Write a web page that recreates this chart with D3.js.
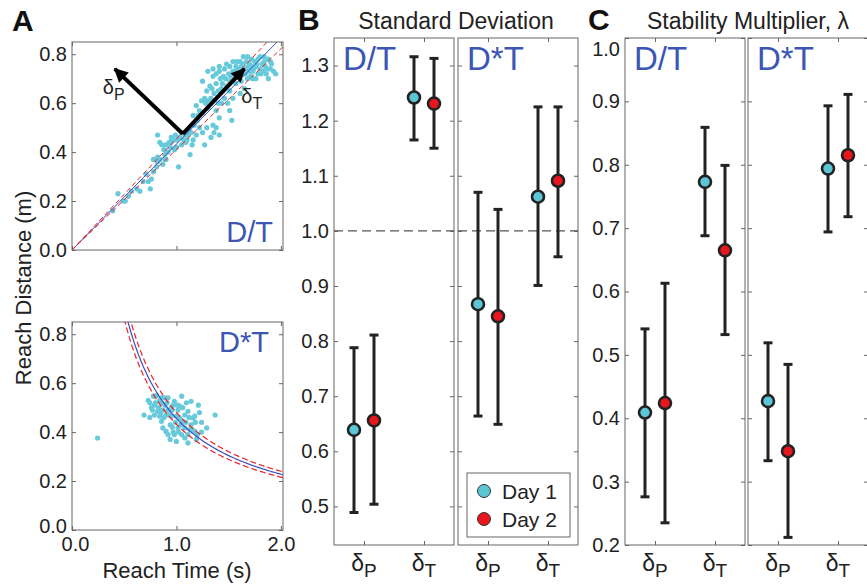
<!DOCTYPE html>
<html>
<head>
<meta charset="utf-8">
<script src="https://cdn.jsdelivr.net/npm/d3@7"></script>
<style>
  body { margin: 0; background: #fff; }
  svg { font-family: "Liberation Sans", Arial, Helvetica, sans-serif; }
</style>
</head>
<body>
<svg id="chart" width="867" height="587"></svg>
<script>
// ---- data ----
const days = ["Day 1", "Day 2"];
const dayColors = ["#5cc6d6", "#e8161d"];
const directions = ["P", "T"];

const reachTicksX = [0, 1, 2];
const reachTicksY = [0, 0.2, 0.4, 0.6, 0.8];
const sdTicks = [0.5, 0.6, 0.7, 0.8, 0.9, 1.0, 1.1, 1.2, 1.3];
const lamTicks = [0.2, 0.3, 0.4, 0.5, 0.6, 0.7, 0.8, 0.9, 1.0];

// rows: dP day1, dP day2, dT day1, dT day2 -> [mean, low, high]
const sdDT = [[0.639, 0.489, 0.788], [0.656, 0.504, 0.811], [1.242, 1.165, 1.316], [1.231, 1.150, 1.313]];
const sdDxT = [[0.867, 0.664, 1.070], [0.845, 0.649, 1.039], [1.062, 0.901, 1.225], [1.091, 0.953, 1.225]];
const lamDT = [[0.409, 0.276, 0.541], [0.424, 0.235, 0.613], [0.773, 0.688, 0.859], [0.665, 0.532, 0.799]];
const lamDxT = [[0.427, 0.333, 0.519], [0.348, 0.212, 0.485], [0.794, 0.694, 0.893], [0.815, 0.718, 0.911]];

// model lines: D = k*T and D*T = c  (centre, lower, upper)
const dtSlopes = [0.433, 0.411, 0.455];
const dxtProducts = [0.456, 0.432, 0.48];

// reach samples [time (s), distance (m)]
const dtPoints = [
  [0.39,0.16],[0.44,0.23],[0.49,0.20],[0.54,0.22],[0.51,0.20],[0.57,0.24],[0.62,0.25],[0.65,0.24],
  [0.68,0.28],[0.71,0.31],[0.73,0.28],[0.75,0.25],[0.76,0.29],[0.78,0.32],[0.81,0.34],[0.82,0.36],
  [0.84,0.37],[0.78,0.37],[0.82,0.38],[0.87,0.35],[0.89,0.39],[0.90,0.37],[0.86,0.43],[0.90,0.43],
  [0.94,0.42],[0.95,0.44],[0.97,0.45],[1.00,0.45],[1.02,0.34],[1.05,0.43],[1.10,0.45],[1.13,0.39],
  [1.16,0.45],[1.14,0.48],[1.19,0.47],[1.22,0.50],[1.25,0.48],[1.29,0.50],[1.35,0.51],[1.38,0.50],
  [1.41,0.47],[1.27,0.43],[1.33,0.46],[1.16,0.55],[1.22,0.57],[1.19,0.59],[1.24,0.61],[1.27,0.62],
  [1.29,0.65],[1.30,0.73],[1.25,0.69],[1.32,0.67],[1.35,0.71],[1.38,0.68],[1.40,0.65],[1.41,0.73],
  [1.45,0.71],[1.48,0.67],[1.51,0.69],[1.51,0.75],[1.54,0.73],[1.57,0.75],[1.61,0.73],[1.64,0.76],
  [1.67,0.74],[1.70,0.76],[1.73,0.73],[1.76,0.75],[1.80,0.74],[1.83,0.73],[1.86,0.72],[1.88,0.78],
  [1.78,0.78],[1.68,0.79],[1.61,0.77],[1.54,0.77],[1.48,0.76],[1.41,0.75],[1.35,0.74],[1.51,0.65],
  [1.54,0.62],[1.57,0.68],[1.61,0.64],[1.65,0.66],[1.73,0.70],[1.51,0.57],[1.53,0.53],[1.41,0.54],
  [1.38,0.57],[1.43,0.60],[1.30,0.58],[1.55,0.70],[1.60,0.71],[1.62,0.69],[1.66,0.72],[1.70,0.73],
  [1.72,0.75],[1.75,0.77],[1.78,0.72],[1.82,0.76],[1.85,0.75],[1.90,0.74],[1.93,0.73],[1.84,0.79],
  [1.64,0.79],[1.58,0.77],[1.46,0.74],[1.44,0.68],[1.36,0.64],[1.33,0.62],[1.30,0.61],[1.46,0.62],
  [1.49,0.60],[1.40,0.60],[1.25,0.56],[1.20,0.53],[1.17,0.51],[1.12,0.49],[1.08,0.47],[1.05,0.48],
  [1.03,0.46],[1.00,0.42],[0.98,0.41],[0.92,0.40],[0.88,0.41],[0.95,0.46],[1.09,0.44],[1.15,0.43],
  [1.36,0.48],[1.90,0.77],[1.95,0.72],[1.88,0.70],[1.76,0.70],[1.68,0.70],[1.57,0.71],[1.52,0.71],
  [1.42,0.70],[1.38,0.72],[1.62,0.75],[1.72,0.78],[1.80,0.79],[0.82,0.47],[0.84,0.44],[0.89,0.37],
  [1.59,0.74],[1.63,0.72],[1.67,0.77],[1.71,0.71],[1.74,0.74],[1.77,0.76],[1.81,0.72],[1.84,0.77],
  [1.87,0.74],[1.91,0.76],[1.69,0.75],[1.56,0.73],[1.50,0.72],[1.47,0.70],[1.43,0.66],[1.34,0.66],
  [1.28,0.60],[1.21,0.55],[1.11,0.47],[1.07,0.45],[0.93,0.44],[0.99,0.47]
];
const dxtPoints = [
  [0.69,0.47],[0.73,0.53],[0.745,0.46],[0.78,0.547],[0.79,0.51],[0.82,0.485],[0.84,0.53],[0.857,0.444],
  [0.87,0.417],[0.89,0.51],[0.90,0.47],[0.92,0.54],[0.94,0.43],[0.94,0.37],[0.95,0.50],[0.97,0.40],
  [0.98,0.526],[1.00,0.465],[1.015,0.417],[1.03,0.506],[1.05,0.547],[1.06,0.444],[1.08,0.376],[1.095,0.52],
  [1.11,0.485],[1.11,0.356],[1.13,0.41],[1.14,0.526],[1.16,0.458],[1.175,0.403],[1.21,0.51],[1.22,0.48],
  [1.24,0.44],[1.29,0.417],[1.37,0.47],[0.90,0.403],[0.98,0.39],[0.81,0.55],[0.87,0.49],[0.95,0.465],
  [1.015,0.49],[1.05,0.39],[0.79,0.47],[0.76,0.50],[0.89,0.54],[1.08,0.47],[1.14,0.43],[0.92,0.49],
  [0.97,0.51],[0.84,0.465],[1.03,0.458],[1.08,0.417],[1.175,0.465],[1.24,0.40],[1.00,0.362],[0.92,0.39],
  [1.11,0.39],[1.19,0.37],[0.745,0.52],[0.857,0.52],[0.245,0.376],
  [0.80,0.52],[0.83,0.50],[0.86,0.54],[0.88,0.46],[0.91,0.52],[0.93,0.47],[0.96,0.49],[0.99,0.44],
  [1.01,0.51],[1.04,0.43],[1.06,0.50],[1.09,0.44],[1.12,0.46],[1.15,0.41],[1.18,0.44],[1.20,0.39],
  [0.96,0.42],[1.02,0.40],[0.77,0.49],[0.85,0.48]
];

// arrows in panel A (data units)
const arrowStart = [1.06, 0.475];
const arrowEnds = [[0.41, 0.74], [1.65, 0.74]];

// ---- drawing ----
const svg = d3.select("#chart");
const blue = "#3b56b4";
const ink = "#222";
const boxColor = "#666";

const defs = svg.append("defs");
defs.append("marker")
  .attr("id", "head")
  .attr("viewBox", "0 0 10 10")
  .attr("refX", 9).attr("refY", 5)
  .attr("markerWidth", 17).attr("markerHeight", 14)
  .attr("markerUnits", "userSpaceOnUse")
  .attr("orient", "auto")
  .append("path").attr("d", "M0,0 L10,5 L0,10 z").attr("fill", "#000");

function styleAxis(sel) {
  sel.select(".domain").remove();
  sel.selectAll("line").attr("stroke", boxColor);
  sel.selectAll("text").attr("font-size", 20).attr("fill", ink)
    .attr("font-family", "'Liberation Sans', Arial, sans-serif");
}

// box with inward ticks on all four sides
function frame(x, y, xTicks, yTicks, showY, showX) {
  const g = svg.append("g");
  const [x0, x1] = x.range();
  const [yb, yt] = y.range();
  const left = g.append("g").attr("transform", `translate(${x0},0)`)
    .call(d3.axisLeft(y).tickValues(yTicks).tickSize(-4).tickSizeOuter(0).tickPadding(5)
      .tickFormat(showY ? d3.format(".1f") : ""))
    .call(styleAxis);
  g.append("g").attr("transform", `translate(${x1},0)`)
    .call(d3.axisRight(y).tickValues(yTicks).tickSize(-4).tickSizeOuter(0).tickFormat(""))
    .call(styleAxis);
  const bottom = g.append("g").attr("transform", `translate(0,${yb})`)
    .call(d3.axisBottom(x).tickValues(xTicks).tickSize(-4).tickSizeOuter(0).tickPadding(7)
      .tickFormat(showX ? d3.format(".1f") : ""))
    .call(styleAxis);
  g.append("g").attr("transform", `translate(0,${yt})`)
    .call(d3.axisTop(x).tickValues(xTicks).tickSize(-4).tickSizeOuter(0).tickFormat(""))
    .call(styleAxis);
  g.append("rect")
    .attr("x", x0).attr("y", yt).attr("width", x1 - x0).attr("height", yb - yt)
    .attr("fill", "none").attr("stroke", boxColor).attr("stroke-width", 1);
  return { left, bottom };
}

function clipFor(id, x, y) {
  const [x0, x1] = x.range();
  const [yb, yt] = y.range();
  defs.append("clipPath").attr("id", id)
    .append("rect").attr("x", x0).attr("y", yt).attr("width", x1 - x0).attr("height", yb - yt);
  return `url(#${id})`;
}

// ---- panel A ----
const xA = d3.scaleLinear().domain([0, 2.02]).range([72, 283]);
const yA1 = d3.scaleLinear().domain([0, 0.85]).range([250, 42]);
const yA2 = d3.scaleLinear().domain([0, 0.85]).range([530, 322]);

const gA1 = svg.append("g").attr("clip-path", clipFor("clipA1", xA, yA1));
gA1.selectAll("circle").data(dtPoints).join("circle")
  .attr("cx", d => xA(d[0])).attr("cy", d => yA1(d[1])).attr("r", 2.6).attr("fill", "#66cadb");

const lineA1 = d3.line().x(d => xA(d[0])).y(d => yA1(d[1]));
dtSlopes.forEach((k, i) => {
  gA1.append("path")
    .attr("d", lineA1(xA.domain().map(t => [t, k * t])))
    .attr("fill", "none")
    .attr("stroke", i === 0 ? "#3b4fc0" : "#e8242a")
    .attr("stroke-width", 1)
    .attr("stroke-dasharray", i === 0 ? null : "5,3");
});
frame(xA, yA1, reachTicksX, reachTicksY, true, false);

// arrows
arrowEnds.forEach(e => {
  svg.append("line")
    .attr("x1", xA(arrowStart[0])).attr("y1", yA1(arrowStart[1]))
    .attr("x2", xA(e[0])).attr("y2", yA1(e[1]))
    .attr("stroke", "#000").attr("stroke-width", 4)
    .attr("marker-end", "url(#head)");
});
const arrowLabelOffsets = [[-12, 25], [-3, 34]];
arrowEnds.forEach((e, i) => {
  const t = svg.append("text")
    .attr("x", xA(e[0]) + arrowLabelOffsets[i][0])
    .attr("y", yA1(e[1]) + arrowLabelOffsets[i][1])
    .attr("font-size", 20).attr("fill", ink);
  t.append("tspan").text("δ");
  t.append("tspan").attr("font-size", 16).attr("dy", 6).text(directions[i]);
});

const gA2 = svg.append("g").attr("clip-path", clipFor("clipA2", xA, yA2));
gA2.selectAll("circle").data(dxtPoints).join("circle")
  .attr("cx", d => xA(d[0])).attr("cy", d => yA2(d[1])).attr("r", 2.6).attr("fill", "#66cadb");
const lineA2 = d3.line().x(d => xA(d[0])).y(d => yA2(d[1]));
const tCurve = d3.range(0.4, 2.03, 0.01);
dxtProducts.forEach((c, i) => {
  gA2.append("path")
    .attr("d", lineA2(tCurve.map(t => [t, c / t])))
    .attr("fill", "none")
    .attr("stroke", i === 0 ? "#3b4fc0" : "#e8242a")
    .attr("stroke-width", 1.2)
    .attr("stroke-dasharray", i === 0 ? null : "6,3");
});
const fA2 = frame(xA, yA2, reachTicksX, reachTicksY, true, true);
// corner labels nudged apart like the original
fA2.left.selectAll(".tick").filter(d => d === 0).select("text").attr("dy", "0.1em");
fA2.bottom.selectAll(".tick").filter(d => d === 0).select("text").attr("dx", 3);

svg.append("text").attr("x", 273).attr("y", 242).attr("text-anchor", "end")
  .attr("font-size", 29).attr("fill", blue).text("D/T");
svg.append("text").attr("x", 269).attr("y", 352).attr("text-anchor", "end")
  .attr("font-size", 29).attr("fill", blue).text("D*T");

svg.append("text").attr("transform", "translate(31,288) rotate(-90)")
  .attr("text-anchor", "middle").attr("font-size", 22).attr("fill", ink)
  .text("Reach Distance (m)");
svg.append("text").attr("x", 177).attr("y", 578)
  .attr("text-anchor", "middle").attr("font-size", 22).attr("fill", ink)
  .text("Reach Time (s)");

// ---- panels B and C ----
const dayOffset = d3.scalePoint().domain(days).range([-10, 10]);

function dirLabels(x) {
  directions.forEach((d, i) => {
    const t = svg.append("text").attr("x", x(i + 1)).attr("y", 571)
      .attr("text-anchor", "middle").attr("font-size", 23).attr("fill", ink);
    t.append("tspan").text("δ");
    t.append("tspan").attr("font-size", 19).attr("dy", 6).text(d);
  });
}

function errPanel(x, y, ticks, rows, label, showY, refLine) {
  const axes = frame(x, y, [1, 2], ticks, showY, false);
  const g = svg.append("g");
  if (refLine != null) {
    g.append("line")
      .attr("x1", x.range()[0]).attr("x2", x.range()[1])
      .attr("y1", y(refLine)).attr("y2", y(refLine))
      .attr("stroke", "#555").attr("stroke-width", 1.2).attr("stroke-dasharray", "9,5");
  }
  const recs = rows.map((r, i) => ({
    dir: Math.floor(i / 2) + 1, day: i % 2, mean: r[0], lo: r[1], hi: r[2]
  }));
  const cx = d => x(d.dir) + dayOffset(days[d.day]);
  g.selectAll(".bar").data(recs).join("line")
    .attr("x1", cx).attr("x2", cx).attr("y1", d => y(d.lo)).attr("y2", d => y(d.hi))
    .attr("stroke", ink).attr("stroke-width", 3);
  ["lo", "hi"].forEach(k => {
    g.selectAll(".cap-" + k).data(recs).join("line")
      .attr("x1", d => cx(d) - 4.5).attr("x2", d => cx(d) + 4.5)
      .attr("y1", d => y(d[k])).attr("y2", d => y(d[k]))
      .attr("stroke", ink).attr("stroke-width", 3);
  });
  g.selectAll("circle").data(recs).join("circle")
    .attr("cx", cx).attr("cy", d => y(d.mean)).attr("r", 6)
    .attr("fill", d => dayColors[d.day])
    .attr("stroke", ink).attr("stroke-width", 2.6);
  svg.append("text").attr("x", x.range()[0] + 9).attr("y", 70)
    .attr("font-size", 33).attr("fill", blue).text(label);
  dirLabels(x);
  return axes.left;
}

const yB = d3.scaleLinear().domain([0.43, 1.35]).range([545, 38]);
const xB1 = d3.scaleLinear().domain([0.5, 2.5]).range([334, 454]);
const xB2 = d3.scaleLinear().domain([0.5, 2.5]).range([458, 578]);
errPanel(xB1, yB, sdTicks, sdDT, "D/T", true, 1.0);
errPanel(xB2, yB, sdTicks, sdDxT, "D*T", false, 1.0);

const yC = d3.scaleLinear().domain([0.2, 1.0]).range([545, 38]);
const xC1 = d3.scaleLinear().domain([0.5, 2.5]).range([625, 745]);
const xC2 = d3.scaleLinear().domain([0.5, 2.5]).range([748, 868]);
const leftC = errPanel(xC1, yC, lamTicks, lamDT, "D/T", true, null);
// top label sits a little below its tick, as in the original figure
leftC.selectAll(".tick").filter(d => d === 1.0).select("text").attr("dy", "0.85em");
errPanel(xC2, yC, lamTicks, lamDxT, "D*T", false, null);

// legend
const leg = svg.append("g");
leg.append("rect").attr("x", 467).attr("y", 473).attr("width", 103).attr("height", 64)
  .attr("fill", "#fff").attr("stroke", boxColor);
days.forEach((d, i) => {
  leg.append("circle").attr("cx", 484).attr("cy", 491 + i * 28).attr("r", 6.5)
    .attr("fill", dayColors[i]).attr("stroke", "#333").attr("stroke-width", 1);
  leg.append("text").attr("x", 502).attr("y", 499 + i * 28)
    .attr("font-size", 21).attr("fill", ink).text(d);
});

// titles and panel letters
svg.append("text").attr("x", 456).attr("y", 29).attr("text-anchor", "middle")
  .attr("font-size", 23).attr("fill", ink).text("Standard Deviation");
svg.append("text").attr("x", 748).attr("y", 29).attr("text-anchor", "middle")
  .attr("font-size", 23).attr("fill", ink).text("Stability Multiplier, λ");
[["A", 12, 31], ["B", 298, 30], ["C", 588, 30]].forEach(([t, x, y]) => {
  svg.append("text").attr("x", x).attr("y", y).attr("font-size", 30)
    .attr("font-weight", "bold").attr("fill", "#111").text(t);
});
</script>
</body>
</html>
